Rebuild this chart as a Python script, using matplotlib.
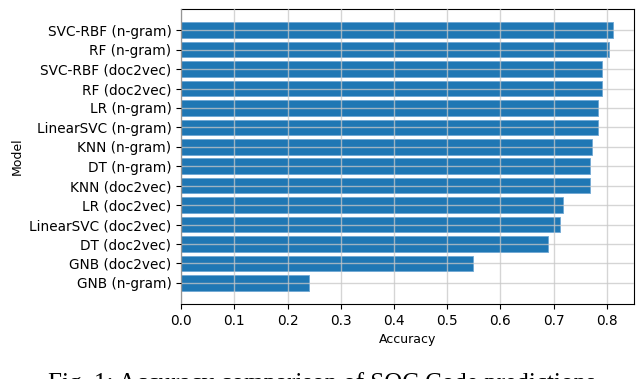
import matplotlib
matplotlib.use("Agg")
import matplotlib.pyplot as plt

# accuracy per model (bottom to top)
models = [
    "GNB (n-gram)", "GNB (doc2vec)", "DT (doc2vec)", "LinearSVC (doc2vec)",
    "LR (doc2vec)", "KNN (doc2vec)", "DT (n-gram)", "KNN (n-gram)",
    "LinearSVC (n-gram)", "LR (n-gram)", "RF (doc2vec)", "SVC-RBF (doc2vec)",
    "RF (n-gram)", "SVC-RBF (n-gram)",
]
accuracy = [
    0.241, 0.548, 0.690, 0.712,
    0.718, 0.769, 0.769, 0.772,
    0.784, 0.784, 0.791, 0.791,
    0.804, 0.811,
]
x_ticks = [0.0, 0.1, 0.2, 0.3, 0.4, 0.5, 0.6, 0.7, 0.8]

plt.rcParams['font.size'] = 9.8

fig = plt.figure(figsize=(6.4, 3.79), dpi=100)
ax = fig.add_axes([0.283, 0.198, 0.708, 0.778])

ax.barh(models, accuracy, color='#1f77b4', edgecolor='#6fa8d4', linewidth=0.6)
ax.set_xticks(x_ticks)
ax.set_xlabel("Accuracy", fontsize=9)
ax.set_ylabel("Model", fontsize=9)

# grid drawn over the bars, like the original
ax.set_axisbelow(False)
ax.grid(True, color='#c8c8c8', linewidth=1.0, alpha=0.75)

# caption from the paper, only its top edge shows at the bottom of the image
fig.text(48 / 640, 1 - 372 / 379, "Fig. 1: Accuracy comparison of SOC Code predictions",
         family='Liberation Serif', fontsize=18, ha='left', va='top')

fig.savefig("out.png", dpi=100)
